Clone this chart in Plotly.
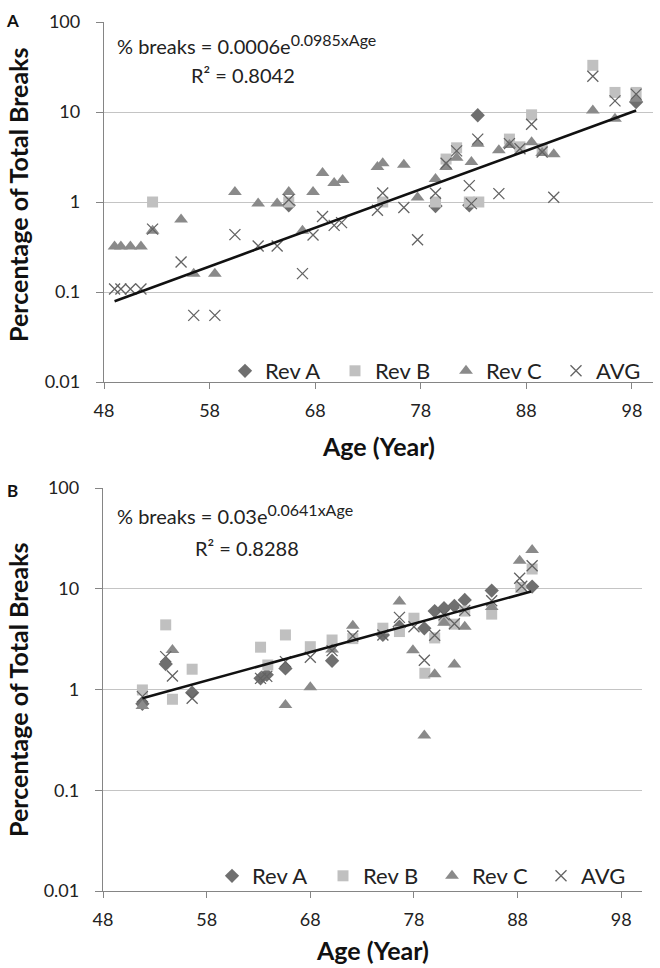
import plotly.graph_objects as go

# ---------------- Panel A data ----------------
revA_age_A = [65.5, 79.4, 82.6, 83.4, 98.4]
revA_val_A = [0.92, 0.9, 0.92, 9.2, 12.9]

revB_age_A = [52.6, 65.5, 74.4, 79.4, 80.4, 81.4, 82.6, 83.5, 86.4, 87.4, 88.5, 89.5, 94.3, 96.4, 98.4]
revB_val_A = [1.0, 1.0, 1.0, 1.0, 3.0, 4.0, 1.0, 1.0, 5.0, 4.1, 9.3, 3.9, 33, 16.5, 16.5]

revC_age_A = [49.0, 49.6, 50.5, 51.5, 52.6, 55.3, 56.5, 58.5, 60.4, 62.6, 64.4, 65.5, 66.8, 67.8,
              68.7, 69.8, 70.6, 73.9, 74.4, 76.4, 77.7, 79.4, 80.4, 81.4, 82.8, 83.4, 85.4, 86.4,
              88.5, 89.5, 90.6, 94.3, 96.4, 98.4]
revC_val_A = [0.32, 0.32, 0.32, 0.32, 0.48, 0.64, 0.16, 0.16, 1.29, 0.96, 0.96, 1.29, 0.48, 1.29,
              2.1, 1.63, 1.76, 2.45, 2.7, 2.6, 1.12, 1.8, 2.45, 3.1, 2.78, 4.45, 3.76, 4.3,
              4.6, 3.5, 3.39, 10.4, 8.4, 14]

avg_age_A = [49.0, 49.6, 50.5, 51.5, 52.6, 55.3, 56.5, 58.5, 60.4, 62.6, 64.4, 65.5, 66.8, 67.8,
             68.7, 69.8, 70.5, 73.9, 74.4, 76.4, 77.7, 79.4, 80.4, 81.4, 82.6, 82.8, 83.4, 85.4,
             86.4, 87.4, 88.5, 89.5, 90.6, 94.3, 96.4, 98.4]
avg_val_A = [0.108, 0.108, 0.108, 0.108, 0.5, 0.215, 0.055, 0.055, 0.434, 0.325, 0.325, 1.06, 0.16, 0.43,
             0.69, 0.55, 0.59, 0.81, 1.26, 0.87, 0.38, 1.25, 2.7, 3.7, 1.52, 0.96, 5.0, 1.24,
             4.45, 3.9, 7.3, 3.6, 1.13, 25, 13.3, 15.8]

trend_age_A = [49.0, 98.4]
trend_val_A = [0.079, 10.4]

# ---------------- Panel B data ----------------
revA_age_B = [51.8, 54.05, 56.6, 63.2, 63.8, 65.6, 70.1, 75.0, 76.6, 79.0, 80.0, 80.9, 81.9, 82.9, 85.5, 89.4]
revA_val_B = [0.72, 1.79, 0.93, 1.29, 1.4, 1.62, 1.93, 3.48, 4.2, 4.05, 6.0, 6.42, 6.76, 7.75, 9.6, 10.5]

revB_age_B = [51.8, 54.05, 54.7, 56.6, 63.2, 63.9, 65.6, 68.0, 70.1, 72.1, 75.0, 76.6, 78.0, 79.05,
              80.0, 80.9, 81.9, 82.9, 85.5, 88.3, 89.4]
revB_val_B = [0.99, 4.38, 0.8, 1.59, 2.63, 1.75, 3.48, 2.66, 3.1, 3.2, 4.06, 3.76, 5.1, 1.45,
              3.25, 4.9, 4.45, 6.0, 5.6, 10.3, 15.7]

revC_age_B = [51.8, 54.7, 65.6, 68.0, 70.1, 72.1, 76.6, 77.9, 79.0, 80.0, 80.9, 81.9, 82.9, 85.5, 88.2, 89.4]
revC_val_B = [0.685, 2.47, 0.70, 1.05, 2.5, 4.3, 7.47, 2.45, 0.35, 1.42, 4.6, 1.77, 4.2, 6.6, 19.0, 24.2]

avg_age_B = [51.8, 54.05, 54.7, 56.6, 63.2, 63.8, 65.6, 68.0, 70.1, 72.1, 75.0, 76.6, 78.0, 79.0,
             80.0, 80.9, 81.9, 82.9, 85.5, 88.2, 88.4, 89.4]
avg_val_B = [0.85, 2.12, 1.36, 0.82, 1.29, 1.35, 1.89, 2.09, 2.43, 3.4, 3.48, 5.2, 4.2, 1.95,
             3.45, 5.5, 4.5, 6.1, 7.6, 12.7, 10.6, 16.9]

trend_age_B = [51.8, 89.3]
trend_val_B = [0.82, 9.4]

series_names = ["Rev A", "Rev B", "Rev C", "AVG"]
y_tick_vals = [0.01, 0.1, 1, 10, 100]
y_tick_text = ["0.01", "0.1", "1", "10", "100"]
x_tick_vals = [48, 58, 68, 78, 88, 98]

equation_A = "% breaks = 0.0006e<sup><span style=\"font-size:16px\">0.0985xAge</span></sup>"
r2_A = "R² = 0.8042"
equation_B = "% breaks = 0.03e<sup><span style=\"font-size:16px\">0.0641xAge</span></sup>"
r2_B = "R² = 0.8288"

# ---------------- styling ----------------
W, H = 660, 968
FONT = "Lato"
C_A = "#6f6f6f"
C_B = "#c0c0c0"
C_C = "#8a8a8a"
C_X = "#636363"

def px_x(p):
    return p / W

def px_y(p):
    return 1 - p / H

styles = [
    dict(symbol="diamond", size=11, color=C_A),
    dict(symbol="square", size=11, color=C_B),
    dict(symbol="triangle-up", size=12, color=C_C),
    dict(symbol="x-thin", size=11, color=C_X, line=dict(color=C_X, width=1.3)),
]

fig = go.Figure()

panels = [
    (("x", "y"), ["legend", "legend2", "legend3", "legend4"],
     [(revA_age_A, revA_val_A), (revB_age_A, revB_val_A),
      (revC_age_A, revC_val_A), (avg_age_A, avg_val_A)],
     (trend_age_A, trend_val_A)),
    (("x2", "y2"), ["legend5", "legend6", "legend7", "legend8"],
     [(revA_age_B, revA_val_B), (revB_age_B, revB_val_B),
      (revC_age_B, revC_val_B), (avg_age_B, avg_val_B)],
     (trend_age_B, trend_val_B)),
]

for (xa, ya), lgs, data, trend in panels:
    for name, lg, (ax, av), st in zip(series_names, lgs, data, styles):
        fig.add_trace(go.Scatter(x=ax, y=av, mode="markers", name=name, marker=st,
                                 xaxis=xa, yaxis=ya, legend=lg, showlegend=True))
    fig.add_trace(go.Scatter(x=trend[0], y=trend[1], mode="lines",
                             line=dict(color="#111111", width=2.6),
                             xaxis=xa, yaxis=ya, showlegend=False, hoverinfo="skip"))

axis_common_x = dict(range=[48, 100], tickvals=x_tick_vals, showgrid=False, showline=True,
                     linecolor="#858585", linewidth=1.3, ticks="outside", ticklen=6,
                     tickcolor="#858585", tickwidth=1.3, zeroline=False,
                     tickfont=dict(family=FONT, size=18, color="#222"), automargin=False,
                     ticklabelstandoff=6)
axis_common_y = dict(type="log", range=[-2, 2], tickvals=y_tick_vals, ticktext=y_tick_text,
                     showgrid=True, gridcolor="#c4c4c4", gridwidth=1.3, showline=True,
                     linecolor="#858585", linewidth=1.3, ticks="outside", ticklen=7,
                     tickcolor="#858585", tickwidth=1.3, zeroline=False,
                     tickfont=dict(family=FONT, size=18, color="#222"), automargin=False,
                     ticklabelstandoff=12)

# Panel A area: x 104..653, y 22..382 ; Panel B: x 103..642, y 488..891
fig.update_layout(
    xaxis=dict(domain=[px_x(104), px_x(653)], anchor="y", **axis_common_x),
    yaxis=dict(domain=[px_y(382), px_y(22)], anchor="x", **axis_common_y),
    xaxis2=dict(domain=[px_x(103), px_x(642)], anchor="y2", **axis_common_x),
    yaxis2=dict(domain=[px_y(891), px_y(488)], anchor="x2", **axis_common_y),
)

legend_common = dict(orientation="v", xanchor="left", yanchor="middle",
                     bgcolor="rgba(0,0,0,0)", borderwidth=0,
                     font=dict(family=FONT, size=22, color="#222"),
                     itemclick=False, itemdoubleclick=False)
legend_marker_x_A = [245, 355, 466, 576]
legend_marker_x_B = [232, 343, 452, 561]
legend_y_A = 371
legend_y_B = 876
leg_layout = {}
for i, mx in enumerate(legend_marker_x_A):
    key = "legend" if i == 0 else "legend%d" % (i + 1)
    leg_layout[key] = dict(x=px_x(mx - 20), y=px_y(legend_y_A), **legend_common)
for i, mx in enumerate(legend_marker_x_B):
    key = "legend%d" % (i + 5)
    leg_layout[key] = dict(x=px_x(mx - 20), y=px_y(legend_y_B), **legend_common)
fig.update_layout(**leg_layout)

ann = []
title_font = dict(family=FONT, size=25, color="#111")
ann.append(dict(text="<b>Age (Year)</b>", x=px_x(378.5), y=px_y(446), xref="paper", yref="paper",
                showarrow=False, font=title_font, xanchor="center", yanchor="middle"))
ann.append(dict(text="<b>Age (Year)</b>", x=px_x(372.5), y=px_y(950), xref="paper", yref="paper",
                showarrow=False, font=title_font, xanchor="center", yanchor="middle"))
ann.append(dict(text="<b>Percentage of Total Breaks</b>", x=px_x(18), y=px_y(195), xref="paper",
                yref="paper", showarrow=False, font=title_font, textangle=-90,
                xanchor="center", yanchor="middle"))
ann.append(dict(text="<b>Percentage of Total Breaks</b>", x=px_x(18), y=px_y(690), xref="paper",
                yref="paper", showarrow=False, font=title_font, textangle=-90,
                xanchor="center", yanchor="middle"))
ann.append(dict(text="<b>A</b>", x=px_x(12), y=px_y(20), xref="paper", yref="paper",
                showarrow=False, font=dict(family=FONT, size=17, color="#111"),
                xanchor="center", yanchor="middle"))
ann.append(dict(text="<b>B</b>", x=px_x(12), y=px_y(490), xref="paper", yref="paper",
                showarrow=False, font=dict(family=FONT, size=17, color="#111"),
                xanchor="center", yanchor="middle"))
eq_font = dict(family=FONT, size=20, color="#222")
ann.append(dict(text=equation_A, x=px_x(115), y=px_y(44), xref="paper", yref="paper",
                showarrow=False, font=eq_font, xanchor="left", yanchor="middle"))
ann.append(dict(text=r2_A, x=px_x(243), y=px_y(75), xref="paper", yref="paper",
                showarrow=False, font=eq_font, xanchor="center", yanchor="middle"))
ann.append(dict(text=equation_B, x=px_x(115), y=px_y(514), xref="paper", yref="paper",
                showarrow=False, font=eq_font, xanchor="left", yanchor="middle"))
ann.append(dict(text=r2_B, x=px_x(247), y=px_y(548), xref="paper", yref="paper",
                showarrow=False, font=eq_font, xanchor="center", yanchor="middle"))

fig.update_layout(
    width=W, height=H,
    margin=dict(l=0, r=0, t=0, b=0),
    paper_bgcolor="white", plot_bgcolor="white",
    font=dict(family=FONT, color="#222"),
    annotations=ann,
    hovermode=False,
)

fig.write_html("out.html", config={"displayModeBar": False},
               post_script="document.body.style.margin='0';document.body.style.overflow='hidden';")
